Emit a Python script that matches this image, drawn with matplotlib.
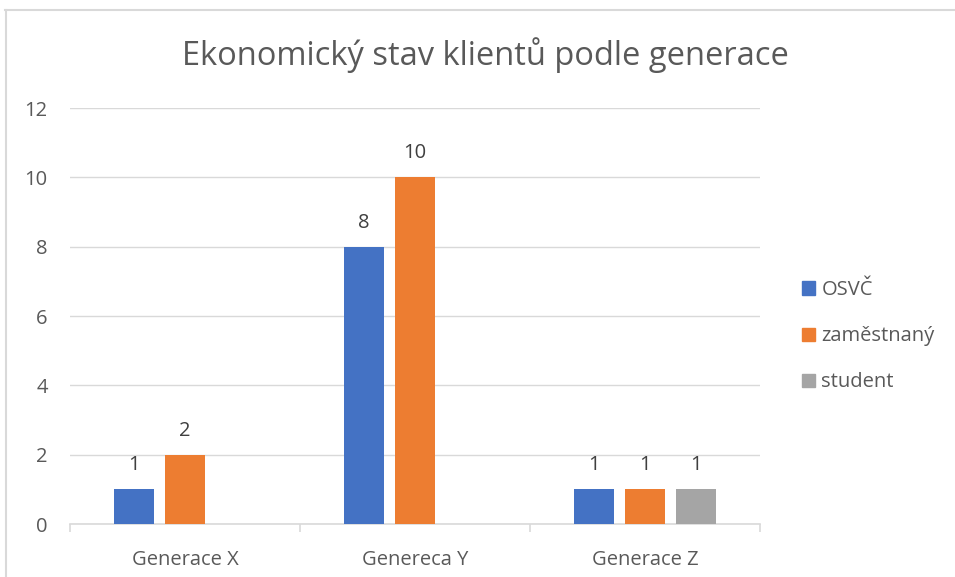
import matplotlib.pyplot as plt
import numpy as np
from matplotlib.lines import Line2D

categories = ['Generace X', 'Genereca Y', 'Generace Z']
series = ['OSVČ', 'zaměstnaný', 'student']
osvc = [1, 8, 1]
zamestnany = [2, 10, 1]
student = [np.nan, np.nan, 1]
colors = ['#4472C4', '#ED7D31', '#A5A5A5']

plt.rcParams['font.family'] = ['Open Sans', 'DejaVu Sans']
txt = '#595959'
grid = '#D9D9D9'
fs = 14.5

W, H = 955, 577
fig = plt.figure(figsize=(W / 100, H / 100), dpi=100)
ax = fig.add_axes([70 / W, 1 - 524 / H, 690 / W, 416 / H])

x = np.arange(len(categories))
bw = 40 / 230
step = 51 / 230
for i, (vals, name) in enumerate(zip([osvc, zamestnany, student], series)):
    pos = x + (i - 1) * step
    ax.bar(pos, vals, width=bw, color=colors[i], label=name, zorder=3)
    for p, v in zip(pos, vals):
        if not np.isnan(v):
            ax.text(p, v + 0.4, str(v), ha='center', va='bottom',
                    fontsize=fs, color='#404040')

ax.set_xlim(-0.5, 2.5)
ax.set_ylim(0, 12)
ax.set_yticks(range(0, 13, 2))
ax.yaxis.grid(True, color=grid, linewidth=1, zorder=0)
for s in ['top', 'right', 'left']:
    ax.spines[s].set_visible(False)
ax.spines['bottom'].set_color(grid)
ax.spines['bottom'].set_linewidth(1.2)
ax.tick_params(axis='y', length=0, pad=16, labelsize=fs, labelcolor=txt)
ax.set_xticks(x)
ax.set_xticklabels(categories)
ax.tick_params(axis='x', length=0, pad=19, labelsize=fs, labelcolor=txt)
# category separators
ax.set_xticks([-0.5, 0.5, 1.5, 2.5], minor=True)
ax.tick_params(axis='x', which='minor', length=6, color=grid, width=1.2)

fig.text(485 / W, 1 - 55 / H, 'Ekonomický stav klientů podle generace',
         ha='center', va='center', fontsize=23.5, color=txt)

handles = [plt.Rectangle((0, 0), 1, 1, color=c) for c in colors]
fig.legend(handles, series, loc='upper left', bbox_to_anchor=(784 / W, 1 - 262 / H),
           frameon=False, fontsize=fs, labelcolor=txt, handlelength=0.65,
           handleheight=0.65, handletextpad=0.3, labelspacing=1.3)

fig.add_artist(Line2D([5 / W, 1], [1 - 10 / H, 1 - 10 / H], color='#D9D9D9', lw=1.5))
fig.add_artist(Line2D([6 / W, 6 / W], [0, 1 - 10 / H], color='#D9D9D9', lw=1.5))

fig.savefig('out.png', dpi=100, facecolor='white')
